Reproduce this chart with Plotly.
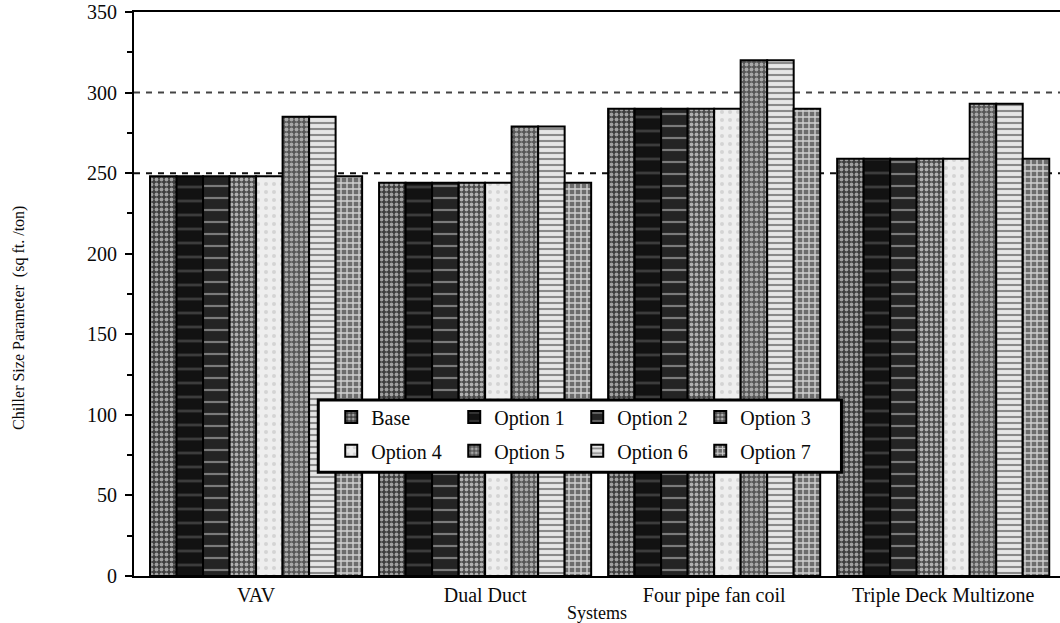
import plotly.graph_objects as go

# Air-handling systems compared
systems = ["VAV", "Dual Duct", "Four pipe fan coil", "Triple Deck Multizone"]

# Chiller size parameter (sq ft / ton) per option
base = [248, 244, 290, 259]
option1 = [248, 244, 290, 259]
option2 = [248, 244, 290, 259]
option3 = [248, 244, 290, 259]
option4 = [248, 244, 290, 259]
option5 = [285, 279, 320, 293]
option6 = [285, 279, 320, 293]
option7 = [248, 244, 290, 259]

series_names = ["Base", "Option 1", "Option 2", "Option 3",
                "Option 4", "Option 5", "Option 6", "Option 7"]
series_values = [base, option1, option2, option3,
                 option4, option5, option6, option7]

y_ticks = [0, 50, 100, 150, 200, 250, 300, 350]
reference_lines = [250, 300]

# grey-scale hatch fills, one per option
fills = [
    dict(bg="#3c3c3c", fg="#a0a0a0", shape=".", size=5, solidity=0.45),
    dict(bg="#121212", fg="#3c3c3c", shape="-", size=14, solidity=0.2),
    dict(bg="#242424", fg="#7a7a7a", shape="-", size=12, solidity=0.18),
    dict(bg="#4a4a4a", fg="#b0b0b0", shape=".", size=5, solidity=0.45),
    dict(bg="#eeeeee", fg="#d4d4d4", shape=".", size=8, solidity=0.2),
    dict(bg="#555555", fg="#a8a8a8", shape=".", size=5, solidity=0.45),
    dict(bg="#e6e6e6", fg="#8a8a8a", shape="-", size=6, solidity=0.35),
    dict(bg="#6c6c6c", fg="#d0d0d0", shape="+", size=6, solidity=0.4),
]

SERIF = "Liberation Serif, Times New Roman, serif"
INK = "#0a0a0a"

fig = go.Figure()
for i, (name, vals) in enumerate(zip(series_names, series_values)):
    f = fills[i]
    fig.add_trace(go.Bar(
        name=name,
        x=systems,
        y=vals,
        legend="legend" if i < 4 else "legend2",
        marker=dict(
            color=f["bg"],
            line=dict(color="#000000", width=2),
            pattern=dict(shape=f["shape"], fgcolor=f["fg"], bgcolor=f["bg"],
                         size=f["size"], solidity=f["solidity"],
                         fillmode="replace"),
        ),
    ))

# dashed reference levels behind the bars
for lvl, col in zip(reference_lines, ["#111111", "#444444"]):
    fig.add_shape(type="line", xref="paper", yref="y", x0=0, x1=1, y0=lvl, y1=lvl,
                  line=dict(color=col, width=2, dash="6px,6px"), layer="below")

# legend frame
fig.add_shape(type="rect", xref="paper", yref="paper",
              x0=0.199, x1=0.764, y0=0.184, y1=0.312,
              line=dict(color="#000000", width=3), fillcolor="#ffffff", layer="above")

legend_common = dict(
    orientation="h", xref="paper", yref="paper", xanchor="left", yanchor="middle",
    bgcolor="rgba(0,0,0,0)", borderwidth=0,
    font=dict(family=SERIF, size=20, color=INK),
    entrywidth=78, entrywidthmode="pixels", traceorder="normal",
)

fig.update_layout(
    width=1060, height=623,
    margin=dict(l=134, r=0, t=12, b=47),
    paper_bgcolor="#ffffff", plot_bgcolor="#ffffff",
    barmode="group", bargap=0.074, bargroupgap=0,
    font=dict(family=SERIF, color=INK),
    legend=dict(x=0.213, y=0.282, **legend_common),
    legend2=dict(x=0.213, y=0.222, **legend_common),
    xaxis=dict(
        range=[-0.533, 3.51], showline=True, linecolor="#000000", linewidth=1.5,
        mirror=True, ticks="", tickfont=dict(family=SERIF, size=20, color=INK),
        title=dict(text="Systems", font=dict(family=SERIF, size=18, color=INK),
                   standoff=2),
        showgrid=False,
    ),
    yaxis=dict(
        range=[0, 350], tickvals=y_ticks, showline=True, linecolor="#000000",
        linewidth=2, mirror=False, ticks="outside", ticklen=7, tickwidth=2,
        tickcolor="#000000", ticklabelstandoff=4,
        tickfont=dict(family=SERIF, size=20, color=INK),
        minor=dict(dtick=25, ticks="outside", ticklen=5, tickcolor="#000000", tickwidth=1.5),
        showgrid=False, zeroline=False,
    ),
    annotations=[dict(
        text="Chiller Size Parameter  (sq ft. /ton)", xref="paper", yref="paper",
        x=-0.1234, y=0.457, xanchor="center", yanchor="middle", textangle=-90,
        showarrow=False, font=dict(family=SERIF, size=16, color=INK),
    )],
)

fig.write_html("out.html")
